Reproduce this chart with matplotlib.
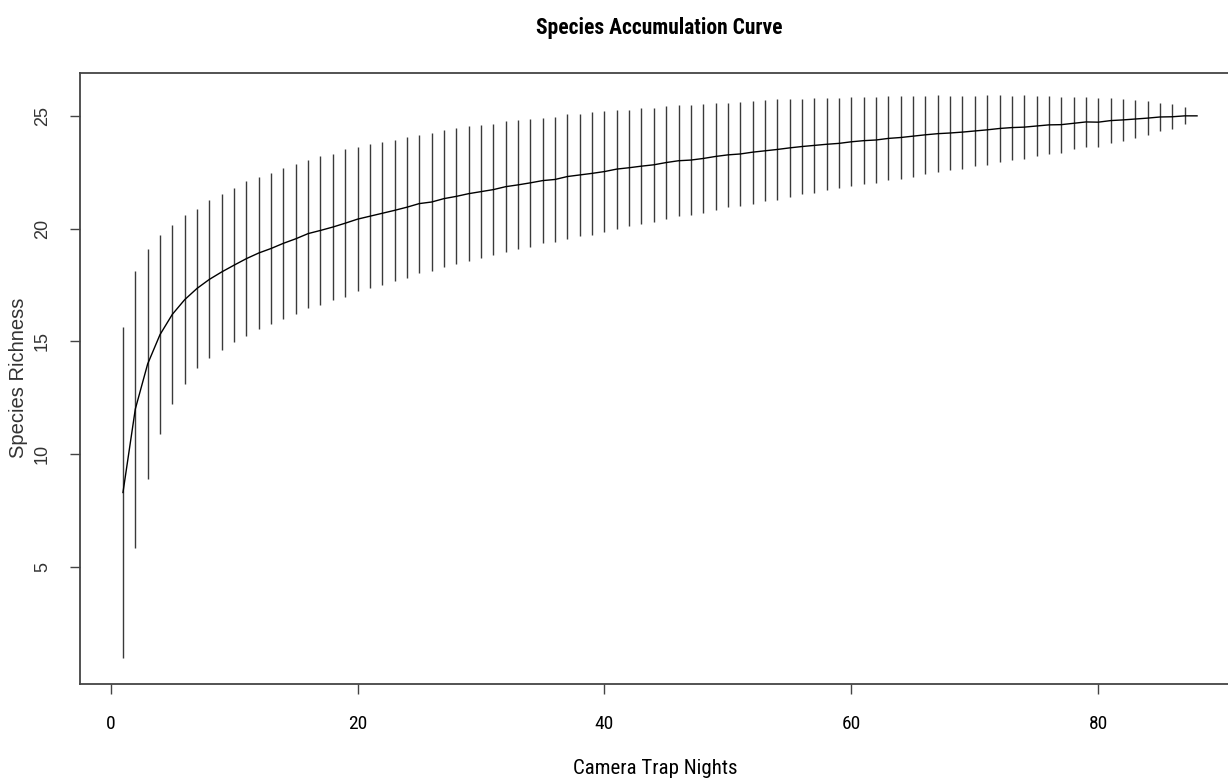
import numpy as np
import matplotlib.pyplot as plt

# camera trap nights (sites pooled)
nights = np.arange(1, 89)

# mean accumulated species richness
richness = [8.30, 12.00, 14.00, 15.30, 16.20, 16.85, 17.35, 17.75, 18.08, 18.38,
            18.67, 18.92, 19.12, 19.35, 19.55, 19.78, 19.92, 20.07, 20.24, 20.42,
            20.55, 20.68, 20.81, 20.95, 21.11, 21.18, 21.33, 21.43, 21.55, 21.64,
            21.73, 21.86, 21.94, 22.03, 22.13, 22.18, 22.31, 22.38, 22.45, 22.53,
            22.64, 22.70, 22.77, 22.83, 22.93, 23.01, 23.04, 23.11, 23.20, 23.27,
            23.31, 23.39, 23.45, 23.51, 23.58, 23.64, 23.69, 23.74, 23.78, 23.85,
            23.90, 23.93, 24.00, 24.04, 24.10, 24.16, 24.21, 24.24, 24.28, 24.33,
            24.38, 24.44, 24.48, 24.50, 24.55, 24.60, 24.61, 24.67, 24.73, 24.72,
            24.79, 24.82, 24.86, 24.90, 24.95, 24.96, 25.00, 25.00]

# standard deviation (bars span richness +/- 2 sd)
sd = [3.67, 3.07, 2.54, 2.20, 1.99, 1.87, 1.77, 1.75, 1.72, 1.70,
      1.71, 1.69, 1.68, 1.67, 1.66, 1.64, 1.65, 1.62, 1.64, 1.60,
      1.59, 1.59, 1.57, 1.56, 1.53, 1.53, 1.52, 1.51, 1.50, 1.47,
      1.46, 1.45, 1.43, 1.42, 1.39, 1.39, 1.38, 1.36, 1.36, 1.34,
      1.32, 1.29, 1.28, 1.26, 1.25, 1.23, 1.21, 1.21, 1.18, 1.16,
      1.15, 1.14, 1.12, 1.11, 1.08, 1.06, 1.05, 1.02, 1.00, 0.99,
      0.96, 0.95, 0.93, 0.92, 0.90, 0.87, 0.85, 0.83, 0.81, 0.78,
      0.77, 0.74, 0.71, 0.71, 0.67, 0.64, 0.62, 0.58, 0.55, 0.54,
      0.49, 0.46, 0.42, 0.38, 0.32, 0.28, 0.19, 0.00]

xticks = [0, 20, 40, 60, 80]
yticks = [5, 10, 15, 20, 25]

narrow = ['Roboto Condensed', 'DejaVu Sans']
arial = ['Liberation Sans', 'DejaVu Sans']

rich = np.array(richness)
s = np.array(sd)

fig = plt.figure(figsize=(12.28, 7.78), dpi=100)
ax = fig.add_axes([80/1228, 94/778, 1160/1228, 611/778])

ax.vlines(nights, rich - 2*s, rich + 2*s, color='#3a3a3a', linewidth=1.0)
ax.plot(nights, rich, color='black', linewidth=1.0)

ax.set_xlim(-2.48, 91.48)
ax.set_ylim(-0.19, 26.9)

ax.set_xticks(xticks)
ax.set_xticklabels([str(t) for t in xticks], family=narrow, fontsize=14)
ax.set_yticks(yticks)
ax.set_yticklabels([str(t) for t in yticks], family=arial, fontsize=13,
                   rotation=90, va='center', color='#333333')
ax.tick_params(direction='out', length=7, width=1, color='#444444')
ax.tick_params(axis='x', pad=15)
ax.tick_params(axis='y', pad=14)
for sp in ax.spines.values():
    sp.set_color('#444444')
    sp.set_linewidth(1.3)

fig.text(659/1228, 1 - 28/778, 'Species Accumulation Curve', family=narrow,
         fontweight='bold', fontsize=15.5, ha='center', va='center')
fig.text(655/1228, 1 - 769/778, 'Camera Trap Nights', family=narrow,
         fontsize=15, ha='center', va='center')
fig.text(19/1228, 1 - 378/778, 'Species Richness', family=arial,
         fontsize=14.5, rotation=90, ha='center', va='center', color='#333333')

fig.savefig('out.png', dpi=100)
